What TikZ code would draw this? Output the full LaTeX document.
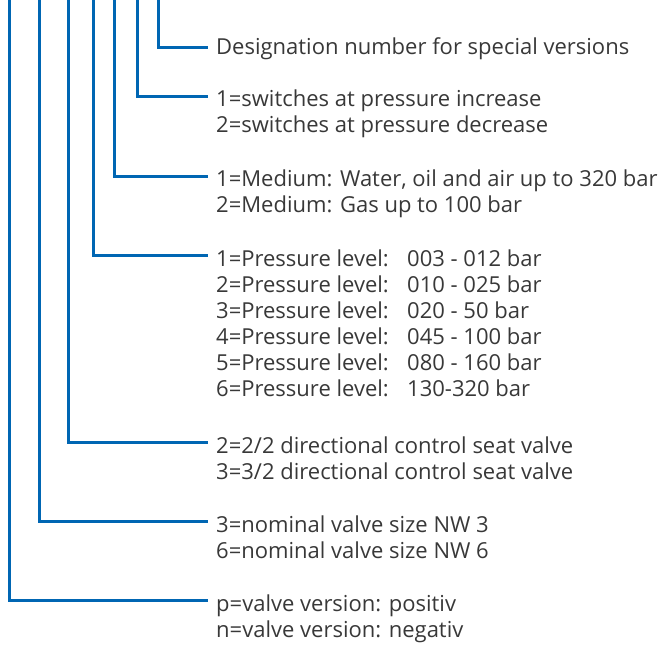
\documentclass[tikz,border=0pt]{standalone}
\usepackage{fontspec}
\setmainfont{Open Sans}
\definecolor{lineblue}{HTML}{0066B3}
\definecolor{txtgrey}{HTML}{383838}
\begin{document}
\begin{tikzpicture}[x=1pt,y=-1pt,
  leg/.style={draw=lineblue,line width=3pt},
  lbl/.style={anchor=base west,inner sep=0pt,text=txtgrey,font=\fontsize{22}{26}\selectfont}]
\useasboundingbox (0,0) rectangle (669,645);
% tops of legs
\coordinate (t1) at (158,0);
\coordinate (t2) at (137,0);
\coordinate (t3) at (114,0);
\coordinate (t4) at (93,0);
\coordinate (t5) at (68,0);
\coordinate (t6) at (39,0);
\coordinate (t7) at (9,0);
% ends of legs
\coordinate (e1) at (208,47.5);
\coordinate (e2) at (208,96.5);
\coordinate (e3) at (208,176.5);
\coordinate (e4) at (208,255);
\coordinate (e5) at (208,442.5);
\coordinate (e6) at (208,521.5);
\coordinate (e7) at (208,600);
\draw[leg] (t1) |- (e1);
\draw[leg] (t2) |- (e2);
\draw[leg] (t3) |- (e3);
\draw[leg] (t4) |- (e4);
\draw[leg] (t5) |- (e5);
\draw[leg] (t6) |- (e6);
\draw[leg] (t7) |- (e7);
% labels
\node[lbl] (n1) at (216,54) {\begin{tabular}[t]{@{}l@{}}Designation number for special versions\end{tabular}};
\node[lbl] (n2) at (216,106) {\begin{tabular}[t]{@{}l@{}}1=switches at pressure increase\\2=switches at pressure decrease\end{tabular}};
\node[lbl] (n3) at (216,186.5) {\begin{tabular}[t]{@{}l@{}}1=Medium: Water, oil and air up to 320 bar\\2=Medium: Gas up to 100 bar\end{tabular}};
\node[lbl] (n4) at (216,266) {\begin{tabular}[t]{@{}l@{}}1=Pressure level:\\2=Pressure level:\\3=Pressure level:\\4=Pressure level:\\5=Pressure level:\\6=Pressure level:\end{tabular}};
\node[lbl] (n4v) at (407,266) {\begin{tabular}[t]{@{}l@{}}003 - 012 bar\\010 - 025 bar\\020 - 50 bar\\045 - 100 bar\\080 - 160 bar\\130-320 bar\end{tabular}};
\node[lbl] (n5) at (216,453) {\begin{tabular}[t]{@{}l@{}}2=2/2 directional control seat valve\\3=3/2 directional control seat valve\end{tabular}};
\node[lbl] (n6) at (216,532) {\begin{tabular}[t]{@{}l@{}}3=nominal valve size NW 3\\6=nominal valve size NW 6\end{tabular}};
\node[lbl] (n7) at (216,611) {\begin{tabular}[t]{@{}l@{}}p=valve version: positiv\\n=valve version: negativ\end{tabular}};
\end{tikzpicture}
\end{document}
